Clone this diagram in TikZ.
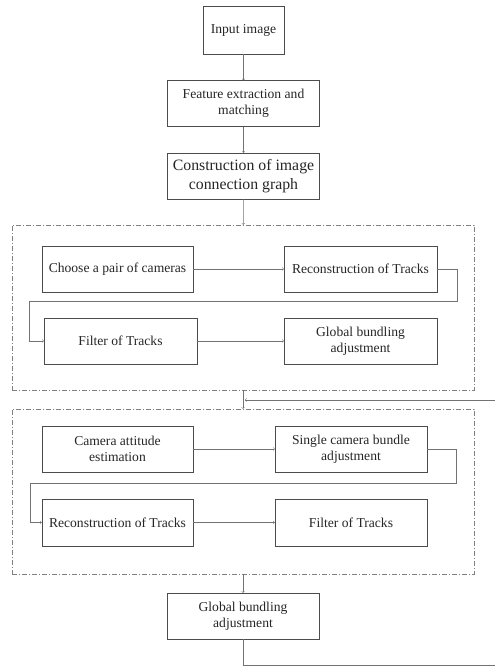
\documentclass[tikz,border=0pt]{standalone}
\usepackage{fontspec}
\setmainfont{Liberation Serif}
\usetikzlibrary{arrows,positioning,shapes}

\begin{document}
\begin{tikzpicture}[->,>=to,auto,thin,x=1pt,y=-1pt,draw=black!55]
\tikzstyle{block}=[rectangle,draw=black!70,fill=white,text=black!85,align=center,minimum width=152pt,minimum height=46pt,inner sep=2pt,font=\fontsize{13.6}{16}\selectfont]
\tikzstyle{group}=[rectangle,draw=black!50,dash pattern=on 5pt off 2pt on 1pt off 2pt,minimum width=462pt,minimum height=165pt,inner sep=0pt]

\useasboundingbox (0,0) rectangle (495,667);
\clip (0,0) rectangle (495,667);

% top column
\node[block,minimum width=81pt,minimum height=48pt] (A) at (243.5,30) {Input image};
\node[block]        (B) [below of=A,node distance=73.5pt] {Feature extraction and\\matching};
\node[block,font=\fontsize{15.8}{19}\selectfont] (C) [below of=B,node distance=72.5pt] {Construction of image\\connection graph};

% first stage
\node[group]        (G1) at (243,307.5) {};
\node[block,minimum width=151pt] (D) at (117.5,269) {Choose a pair of cameras};
\node[block,minimum width=153pt] (E) [right of=D,node distance=243pt] {Reconstruction of Tracks};
\node[block,minimum width=153pt] (F) at (120.5,341) {Filter of Tracks};
\node[block,minimum width=153pt] (H) [right of=F,node distance=240pt] {Global bundling\\adjustment};

% second stage
\node[group]        (G2) at (243,491.5) {};
\node[block,minimum width=151pt] (I) at (117.5,449) {Camera attitude\\estimation};
\node[block]        (J) [right of=I,node distance=233.5pt] {Single camera bundle\\adjustment};
\node[block,minimum width=151pt,minimum height=47pt] (K) [below of=I,node distance=73.5pt] {Reconstruction of Tracks};
\node[block,minimum height=47pt] (L) [right of=K,node distance=233.5pt] {Filter of Tracks};

\node[block]        (M) at (243,616) {Global bundling\\adjustment};
\coordinate         (N) at (245,400);

\path
(A) edge (B)
(B) edge (C)
(C) edge (G1)
(D) edge (E)
(F) edge (H)
(G1) edge (G2)
(I) edge (J)
(K) edge (L)
(G2) edge (M)
;
\draw (E.east) -| ++(20,32) -| ([xshift=-15pt]F.west) -- (F.west);
\draw (J.east) -| ++(29,34) -| ([xshift=-12pt]K.west) -- (K.west);
\draw (M.south) |- (520,665) |- (N);

\end{tikzpicture}
\end{document}
